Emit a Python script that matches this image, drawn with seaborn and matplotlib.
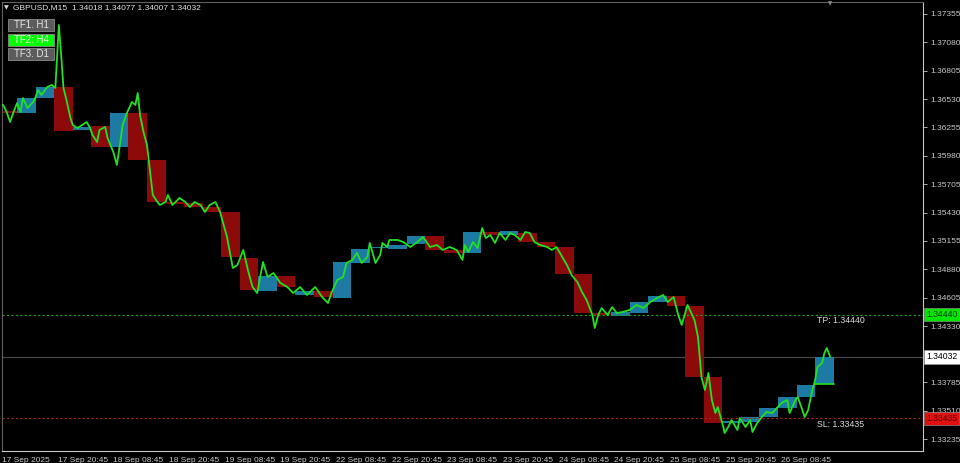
import numpy as np
import pandas as pd
import matplotlib
matplotlib.use("Agg")
import matplotlib.pyplot as plt
import matplotlib.transforms as mtransforms
from matplotlib.patches import Rectangle
import seaborn as sns

# GBPUSD M15 - closes (x = M15 bar number since 17 Sep 08:45)
m15_bar = [0, 1, 4, 7, 9, 13, 16, 18, 22, 26, 28, 31, 34, 39, 43, 46, 49, 51, 53, 56,
           59, 61, 65, 69, 73, 76, 78, 82, 84, 89, 91, 96, 99, 102, 104, 108, 112, 115, 117, 119,
           122, 125, 128, 130, 134, 136, 141, 143, 147, 153, 158, 162, 166, 171, 175, 179, 184, 188, 194, 199,
           203, 208, 212, 216, 220, 225, 229, 234, 240, 246, 251, 257, 263, 270, 276, 281, 284, 289, 294, 297,
           302, 306, 310, 315, 317, 322, 326, 328, 332, 334, 341, 346, 352, 358, 363, 369, 375, 380, 386, 392,
           397, 399, 402, 406, 410, 414, 417, 421, 425, 429, 434, 438, 442, 447, 451, 455, 459, 464, 470, 474,
           478, 483, 487, 491, 496, 500, 504, 509, 511, 514, 517, 522, 526, 530, 535, 541, 547, 553, 559, 565,
           570, 574, 579, 583, 586, 591, 595, 597, 600, 603, 606, 609, 612, 615, 617, 621, 623, 626, 629, 634,
           636, 641, 645, 647, 651, 655, 659, 664, 668, 672, 677, 679, 684, 686, 690, 692, 695, 698, 701, 703,
           707, 709, 711, 714]
m15_close = [1.36473, 1.36473, 1.36405, 1.36308, 1.36376, 1.36492, 1.36405, 1.36541, 1.36444, 1.36492,
             1.36521, 1.36618, 1.36570, 1.36647, 1.36667, 1.36638, 1.37248, 1.36958, 1.36638, 1.36502,
             1.36347, 1.36279, 1.36250, 1.36279, 1.36308, 1.36250, 1.36182, 1.36114, 1.36231, 1.36260,
             1.36153, 1.36017, 1.35892, 1.36114, 1.36279, 1.36405, 1.36502, 1.36473, 1.36589, 1.36376,
             1.36211, 1.36085, 1.35795, 1.35601, 1.35533, 1.35504, 1.35533, 1.35601, 1.35504, 1.35572,
             1.35533, 1.35484, 1.35533, 1.35504, 1.35436, 1.35504, 1.35533, 1.35436, 1.35194, 1.34893,
             1.34923, 1.35068, 1.34874, 1.34709, 1.34651, 1.34951, 1.34806, 1.34845, 1.34748, 1.34709,
             1.34651, 1.34709, 1.34632, 1.34709, 1.34612, 1.34554, 1.34651, 1.34777, 1.34806, 1.34942,
             1.34971, 1.35039, 1.34942, 1.35000, 1.35136, 1.34942, 1.35019, 1.35136, 1.35097, 1.35165,
             1.35165, 1.35145, 1.35097, 1.35145, 1.35194, 1.35097, 1.35116, 1.35068, 1.35097, 1.35068,
             1.34971, 1.35116, 1.35048, 1.35145, 1.35087, 1.35281, 1.35184, 1.35213, 1.35136, 1.35233,
             1.35165, 1.35233, 1.35213, 1.35165, 1.35242, 1.35233, 1.35145, 1.35116, 1.35097, 1.35068,
             1.35097, 1.35000, 1.34923, 1.34826, 1.34758, 1.34661, 1.34583, 1.34438, 1.34312, 1.34438,
             1.34506, 1.34438, 1.34515, 1.34457, 1.34467, 1.34486, 1.34535, 1.34506, 1.34564, 1.34603,
             1.34632, 1.34564, 1.34612, 1.34438, 1.34341, 1.34535, 1.34438, 1.34389, 1.34225, 1.33837,
             1.33711, 1.33876, 1.33614, 1.33488, 1.33546, 1.33391, 1.33294, 1.33352, 1.33420, 1.33323,
             1.33440, 1.33352, 1.33420, 1.33304, 1.33391, 1.33449, 1.33498, 1.33488, 1.33536, 1.33585,
             1.33614, 1.33488, 1.33614, 1.33643, 1.33517, 1.33449, 1.33517, 1.33682, 1.33808, 1.33934,
             1.33973, 1.34069, 1.34118, 1.34032]

# H4 candles (open / close) drawn as boxes, first one is the partial 08:45-12:00 block
h4_start = [0] + [13 + 16 * k for k in range(44)]
h4_open = [1.36410, 1.36395, 1.36541, 1.36647, 1.36231, 1.36270, 1.36066, 1.36395, 1.35940, 1.35533,
           1.35523, 1.35484, 1.35436, 1.34990, 1.34670, 1.34816, 1.34632, 1.34670, 1.34603, 1.34942,
           1.35087, 1.35078, 1.35126, 1.35203, 1.35068, 1.35039, 1.35242, 1.35213, 1.35233, 1.35145,
           1.35097, 1.34835, 1.34457, 1.34428, 1.34457, 1.34564, 1.34622, 1.34525, 1.33837, 1.33391,
           1.33401, 1.33449, 1.33536, 1.33643, 1.33769]
h4_close = [1.36400, 1.36541, 1.36647, 1.36221, 1.36260, 1.36066, 1.36395, 1.35940, 1.35533, 1.35513,
            1.35484, 1.35436, 1.35000, 1.34680, 1.34816, 1.34709, 1.34670, 1.34612, 1.34951, 1.35078,
            1.35097, 1.35116, 1.35203, 1.35068, 1.35039, 1.35242, 1.35213, 1.35252, 1.35145, 1.35097,
            1.34835, 1.34457, 1.34438, 1.34467, 1.34564, 1.34622, 1.34525, 1.33837, 1.33391, 1.33410,
            1.33449, 1.33536, 1.33643, 1.33759, 1.34032]

# 1.34055 is hidden under the last-price tag in the terminal, so it is left out
price_ticks = [1.37355, 1.37080, 1.36805, 1.36530, 1.36255, 1.35980, 1.35705, 1.35430,
               1.35155, 1.34880, 1.34605, 1.34330, 1.33785, 1.33510, 1.33235]
time_ticks = [0, 48, 96, 144, 192, 240, 288, 336, 384, 432, 480, 528, 576, 624, 672]
time_labels = ["17 Sep 2025", "17 Sep 20:45", "18 Sep 08:45", "18 Sep 20:45", "19 Sep 08:45",
               "19 Sep 20:45", "22 Sep 08:45", "22 Sep 20:45", "23 Sep 08:45", "23 Sep 20:45",
               "24 Sep 08:45", "24 Sep 20:45", "25 Sep 08:45", "25 Sep 20:45", "26 Sep 08:45"]
tp_price = 1.34440
sl_price = 1.33435
last_price = 1.34032
header = "GBPUSD,M15  1.34018 1.34077 1.34007 1.34032"
buttons = ["TF1. H1", "TF2: H4", "TF3. D1"]

sns.set_style("dark", {"axes.facecolor": "black", "figure.facecolor": "black"})
plt.rcParams['font.family'] = ['Liberation Sans', 'DejaVu Sans']

fig = plt.figure(figsize=(9.6, 4.63), dpi=100)
ax = fig.add_axes([2 / 960, 12 / 463, 921 / 960, 449 / 463])
ax.set_facecolor("black")

# H4 boxes
BLUE = "#1d7aa2"
RED = "#8c0a0a"
for s, o, c in zip(h4_start, h4_open, h4_close):
    w = 13 if s == 0 else 16
    ax.bar(s, c - o, bottom=o, width=w, align="edge",
           color=BLUE if c >= o else RED, linewidth=0, zorder=1)

# M15 price
df = pd.DataFrame({"bar": m15_bar, "close": m15_close})
sns.lineplot(data=df, x="bar", y="close", ax=ax, color="#22e022", lw=1.3,
             estimator=None, zorder=3)
ax.plot([h4_start[-1], h4_start[-1] + 16], [h4_open[-1], h4_open[-1]],
        color="#22e022", lw=1.2, zorder=3)

# TP / SL / last price lines
ax.axhline(tp_price, color="#1fa01f", lw=0.8, ls=(0, (2, 2)), zorder=2)
ax.axhline(sl_price, color="#a52222", lw=0.8, ls=(0, (2, 2)), zorder=2)
ax.axhline(last_price, color="#4a4a4a", lw=0.8, zorder=0.5)
ax.text(703, tp_price - 0.00012, "TP: 1.34440", color="#d8d8d8", fontsize=6.3, va="top")
ax.text(703, sl_price - 0.00012, "SL: 1.33435", color="#d8d8d8", fontsize=6.3, va="top")

ax.set_xlim(0, 794)
ax.set_ylim(1.33120, 1.37471)
ax.set_xlabel("")
ax.set_ylabel("")

ax.yaxis.tick_right()
ax.set_yticks(price_ticks)
ax.set_yticklabels([f"{p:.5f}" for p in price_ticks])
ax.set_xticks(time_ticks)
ax.set_xticklabels(time_labels, ha="left")
ax.tick_params(axis="y", colors="#c8c8c8", labelsize=6, length=3, pad=2, width=0.6, direction="out")
ax.tick_params(axis="x", colors="#c8c8c8", labelsize=6, length=3, pad=1, width=0.6, direction="out")
ax.grid(False)
for side in ["right", "bottom"]:
    ax.spines[side].set_color("#c8c8c8")
    ax.spines[side].set_linewidth(0.8)
    ax.spines[side].set_visible(True)
for side in ["left", "top"]:
    ax.spines[side].set_color("#606060")
    ax.spines[side].set_linewidth(0.8)
    ax.spines[side].set_visible(True)

# price tags on the right scale
trans = mtransforms.blended_transform_factory(ax.transAxes, ax.transData)
for price, fc, tc in [(tp_price, "#00e600", "#063806"), (last_price, "#ffffff", "#000000"),
                      (sl_price, "#e01010", "#5a0000")]:
    ax.text(1.0035, price, f"{price:.5f}", transform=trans, fontsize=6.2, color=tc,
            va="center", ha="left", zorder=5, clip_on=False,
            bbox=dict(boxstyle="square,pad=0.25", fc=fc, ec="#9a9a9a", lw=0.4))

# header and buttons
fig.text(4 / 960, 1 - 8 / 463, "\u25bc", color="#d0d0d0", fontsize=4.5, va="center",
         family=["DejaVu Sans"])
fig.text(13 / 960, 1 - 8 / 463, header, color="#e0e0e0", fontsize=6, va="center")
fig.text(830 / 960, 1 - 4 / 463, "\u25bc", color="#8a8a8a", fontsize=4, va="center",
         ha="center", family=["DejaVu Sans"])
btn_top = [19, 34, 48]
for label, top in zip(buttons, btn_top):
    fc = "#00ff00" if "H4" in label else "#5c5c5c"
    tc = "#f2fff2" if "H4" in label else "#e6e6e6"
    fig.patches.append(Rectangle((8 / 960, 1 - (top + 12) / 463), 46 / 960, 12 / 463,
                                 transform=fig.transFigure, fc=fc, ec="#8c8c8c", lw=0.6))
    fig.text(31 / 960, 1 - (top + 6) / 463, label, color=tc, fontsize=7,
             ha="center", va="center")

fig.savefig("out.png", dpi=100, facecolor="black")
